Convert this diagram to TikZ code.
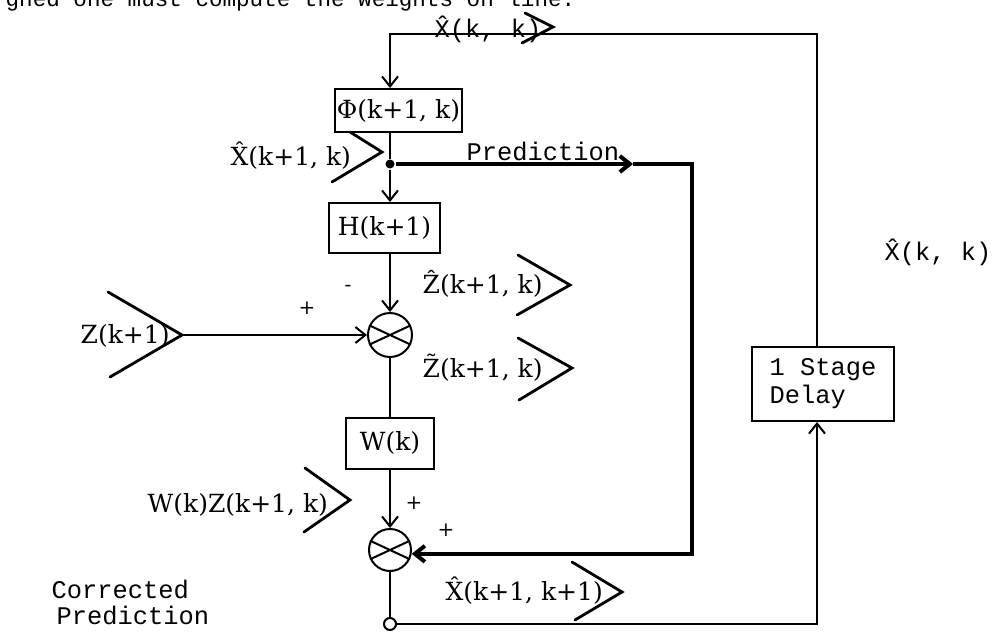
\documentclass[tikz,border=0pt]{standalone}
\usepackage{fontspec}
\setmainfont{DejaVu Serif}
\newfontfamily\typefont{Liberation Mono}
\usetikzlibrary{arrows.meta}

\begin{document}
\begin{tikzpicture}[x=0.5pt, y=-0.5pt, font=\fontsize{12.5}{14}\selectfont,
  line width=1pt,
  arr/.style={-{Straight Barb[length=5pt,width=8pt]}},
  blockbox/.style={draw, rectangle, inner sep=0pt},
  summer/.style={draw, circle, minimum size=#1, inner sep=0pt},
  mono/.style={font=\typefont\fontsize{12.7}{13}\selectfont},
  sign/.style={font=\fontsize{10}{10}\selectfont, inner sep=0pt},
  bracket/.style={line width=1.4pt, line cap=round},
  predline/.style={line width=2pt}]
  \useasboundingbox (0,0) rectangle (992,632);

  % blocks
  \node[blockbox, minimum width=63.5pt, minimum height=21.5pt] (phi) at (398.5,110.5) {Φ(k+1, k)};
  \node[blockbox, minimum width=55.5pt, minimum height=25pt] (hbox) at (384.5,228) {H(k+1)};
  \node[blockbox, minimum width=44pt, minimum height=25.5pt] (wbox) at (390,443) {W(k)};
  \node[blockbox, font=\typefont\fontsize{12.7}{14}\selectfont, align=left,
    minimum width=71pt, minimum height=37pt] (delay) at (823,384) {1 Stage\\Delay};
  \node[summer=22pt] (sum1) at (390,335) {};
  \node[summer=21pt] (sum2) at (390,550) {};
  \node[circle, fill, inner sep=0pt, minimum size=4.5pt] (dot) at (390,164) {};
  \node[circle, draw, fill=white, inner sep=0pt, minimum size=6pt] (out) at (390,624) {};
  \foreach \s in {sum1,sum2}
    \draw (\s.155) -- (\s.-25) (\s.205) -- (\s.25);

  % corners of the loops
  \coordinate (tl) at (390,34);
  \coordinate (tr) at (817,34);
  \coordinate (br) at (817,624);
  \coordinate (zin) at (182,335);
  \coordinate (pmark) at (633,164);
  \coordinate (pr) at (692,164);

  % connectors
  \draw[arr] (delay.north -| tr) -- (tr) -- (tl) -- (phi.north -| tl);
  \draw (phi.south -| dot) -- (dot);
  \draw[arr] (dot) -- (hbox.north -| dot);
  \draw[arr] (hbox.south -| sum1) -- (sum1.north);
  \draw[arr] (zin) -- (sum1.west);
  \draw (sum1.south) -- (wbox.north);
  \draw[arr] (wbox.south) -- (sum2.north);
  \draw (sum2.south) -- (out.north);
  \draw[arr] (out.east) -- (br) -- (delay.south -| br);
  \draw[predline, arr] (dot) -- (pmark);
  \draw[predline, arr] (pmark) -- (pr) |- (sum2.-10);

  % labels
  \node[font=\typefont\fontsize{11.3}{12}\selectfont, anchor=base west] (bodytext) at (-2,6) {gned one must compute the weights on line.};
  \node[mono, anchor=base west] (xtop) at (427,37) {\^{X}(k, k)};
  \node[anchor=base west] (xpred) at (223,165) {\^{X}(k+1, k)};
  \node[mono, anchor=base west] (predlabel) at (459,160) {Prediction};
  \node[anchor=base west] (zhat) at (415,293) {\^{Z}(k+1, k)};
  \node[anchor=base west] (ztil) at (415,377) {\~{Z}(k+1, k)};
  \node[sign] (minus) at (348,288) {-};
  \node[sign] (plus1) at (307,308) {+};
  \node[anchor=base west] (zlabel) at (73,343) {Z(k+1)};
  \node[mono, anchor=base west] (xright) at (877,260) {\^{X}(k, k)};
  \node[anchor=base west] (wz) at (140,512) {W(k)Z(k+1, k)};
  \node[sign] (plus2) at (414,503) {+};
  \node[sign] (plus3) at (446,530) {+};
  \node[anchor=base west] (xcorr) at (438,600) {\^{X}(k+1, k+1)};
  \node[mono, align=left, anchor=north west] (corr) at (44,572) {Corrected\\\kern0.2em Prediction};

  % brackets beside the labels
  \draw[bracket] (525,13) -- (553,27) -- (522,43);
  \draw[bracket] (350,132) -- (382,152) -- (332,182);
  \draw[bracket] (108,292) -- (182,335) -- (110,377);
  \draw[bracket] (518,255) -- (570,285) -- (517,315);
  \draw[bracket] (518,338) -- (572,368) -- (519,400);
  \draw[bracket] (305,468) -- (350,500) -- (304,532);
  \draw[bracket] (572,562) -- (622,592) -- (575,620);
\end{tikzpicture}
\end{document}
